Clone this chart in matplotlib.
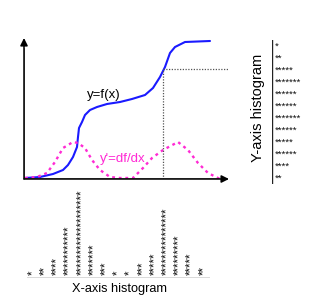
import numpy as np
import matplotlib
matplotlib.use("Agg")
import matplotlib.pyplot as plt

plt.rcParams['font.family'] = ['Liberation Sans', 'DejaVu Sans']

# curve y=f(x) (axis units)
f_x = [1, 16, 29, 39, 44, 49, 53, 54, 55, 58, 61, 66, 73, 83, 96, 108, 121, 129, 136, 141, 146, 151, 161, 186]
f_y = [1, 2, 5, 9, 14, 22, 32, 42, 51, 57, 64, 69, 72, 75, 77, 80, 84, 91, 102, 112, 126, 132, 137, 138]

# derivative y'=df/dx
df_x = [1, 13, 23, 31, 39, 49, 54, 61, 68, 76, 86, 96, 109, 119, 128, 139, 154, 164, 174, 184, 196]
df_y = [1, 2, 6, 17, 31, 37, 36, 31, 19, 9, 2, 1, 1, 11, 21, 29, 37, 29, 16, 6, 0]

# marked point on the curve
mark_x = 139
mark_y = 110

# asterisk histograms
x_hist = [1, 2, 4, 11, 19, 7, 3, 1, 1, 3, 5, 15, 9, 5, 2]
y_hist = [1, 2, 5, 7, 6, 6, 7, 6, 5, 6, 4, 2]

W, H = 319, 305
fig = plt.figure(figsize=(W / 100, H / 100), dpi=100)

def box(x0, y0, x1, y1):
    # pixel box -> figure fraction [left, bottom, width, height]
    return [x0 / W, 1 - y1 / H, (x1 - x0) / W, (y1 - y0) / H]

# main plot
ax = fig.add_axes(box(24, 38, 229, 179))
ax.set_xlim(0, 205)
ax.set_ylim(0, 141)
ax.axis('off')

ax.plot(f_x, f_y, color='#1a1aff', lw=1.5, solid_capstyle='round')
ax.plot(df_x, df_y, color='#ff2ad4', lw=1.7, linestyle=(0, (1.2, 1.6)))
ax.plot([mark_x, mark_x], [0, mark_y], color='#555555', lw=0.9, linestyle=(0, (1, 1.2)))
ax.plot([mark_x, 205], [mark_y, mark_y], color='#555555', lw=0.9, linestyle=(0, (1, 1.2)))

arrow = dict(arrowstyle='-|>', color='black', lw=1.1, mutation_scale=11, shrinkA=0, shrinkB=0)
ax.annotate('', xy=(0, 1.0), xytext=(0, 0), xycoords='axes fraction', arrowprops=arrow)
ax.annotate('', xy=(1.0, 0), xytext=(0, 0), xycoords='axes fraction', arrowprops=arrow)
ax.plot([0, 0], [0, 130], color='#555555', lw=1.1)
ax.plot([0, 195], [0, 0], color='#555555', lw=1.1)

ax.text(80, 84, 'y=f(x)', fontsize=9.5, ha='center', va='center', color='black')
ax.text(99, 20, "y'=df/dx", fontsize=9.5, ha='center', va='center', color='#ff2ad4')

# x-axis histogram
axx = fig.add_axes(box(27, 180, 210, 278))
axx.set_xlim(-0.5, len(x_hist) - 0.5)
axx.set_ylim(0, 1)
axx.axis('off')
axx.axhline(0, color='#444444', lw=1.0)
for i, n in enumerate(x_hist):
    axx.text(i, 0.03, '*' * n, rotation=90, fontsize=8.3, ha='center', va='bottom',
             color='#111111', linespacing=1)
fig.text(120 / W, 1 - 289 / H, 'X-axis histogram', fontsize=9.2, ha='center', va='center')

# y-axis histogram
axy = fig.add_axes(box(272, 40, 319, 184))
axy.set_ylim(len(y_hist) - 0.5, -0.5)
axy.set_xlim(0, 1)
axy.axis('off')
axy.axvline(0, color='#222222', lw=1.0)
for j, n in enumerate(y_hist):
    axy.text(0.05, j, '*' * n, fontsize=6.8, ha='left', va='center', color='#111111')
fig.text(258 / W, 1 - 108 / H, 'Y-axis histogram', fontsize=10.5, rotation=90,
         ha='center', va='center')

fig.savefig('out.png', dpi=100)
